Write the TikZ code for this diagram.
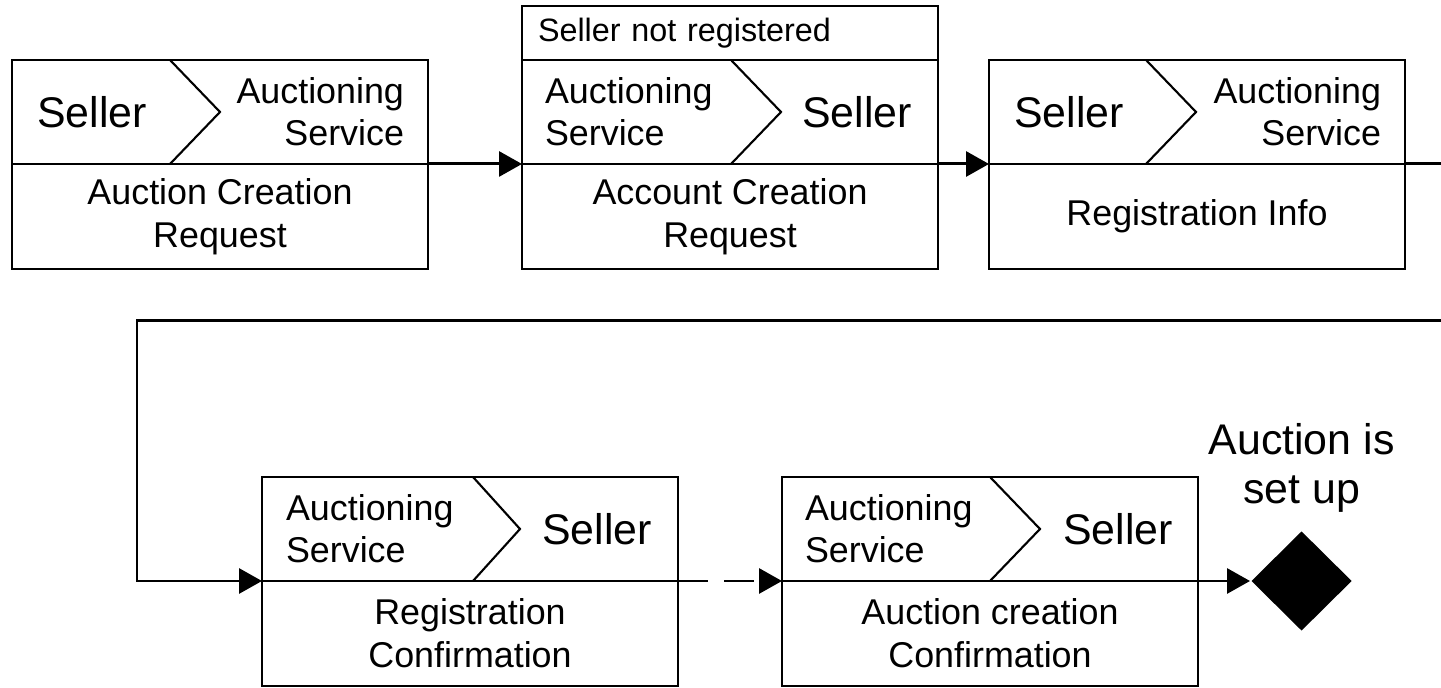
\documentclass[tikz,border=0pt]{standalone}
\usepackage{fontspec}
\setmainfont{Liberation Sans}
\usetikzlibrary{arrows.meta, positioning, shapes.geometric}

\begin{document}
\begin{tikzpicture}[node distance=0cm, >={Triangle[length=0.23cm, width=0.25cm]}, line width=0.6pt]
        \tikzstyle{hdr}=[rectangle, draw, outer sep=0pt, minimum width=4.16cm, minimum height=1.04cm, inner sep=0pt]
        \tikzstyle{msg}=[rectangle, draw, outer sep=0pt, minimum width=4.16cm, minimum height=1.05cm, align=center, font=\fontsize{10.2pt}{12.2pt}\selectfont]
        \tikzstyle{who}=[inner sep=0pt, font=\fontsize{10.2pt}{12pt}\selectfont]
        \tikzstyle{whobig}=[inner sep=0pt, font=\fontsize{12.2pt}{14.2pt}\selectfont]
        \tikzstyle{flow}=[->, line width=0.85pt]
        \useasboundingbox (0,0) rectangle (14.41,-6.88);

        % first row
        \node[hdr] (create) at (2.2,-1.12) {};
        \node[msg, below=of create] (createtxt) {Auction Creation\\Request};
        \node[whobig, anchor=west] at ([xshift=0.24cm]create.west) {Seller};
        \node[who, anchor=east, align=right] at ([xshift=-0.23cm]create.east) {Auctioning\\Service};
        \draw ([xshift=1.58cm]create.north west) -- ([xshift=2.08cm]create.west) -- ([xshift=1.58cm]create.south west);

        \node[hdr, right=0.94cm of create] (account) {};
        \node[msg, below=of account] (accounttxt) {Account Creation\\Request};
        \node[rectangle, draw, outer sep=0pt, above=of account, text width=3.84cm, inner xsep=0.16cm, minimum height=0.53cm, font=\fontsize{9.2pt}{11pt}\selectfont] (cond) {Seller not registered};
        \node[who, anchor=west, align=left] at ([xshift=0.22cm]account.west) {Auctioning\\Service};
        \node[whobig, anchor=east] at ([xshift=-0.25cm]account.east) {Seller};
        \draw ([xshift=2.09cm]account.north west) -- ([xshift=2.59cm]account.west) -- ([xshift=2.09cm]account.south west);

        \node[hdr, right=0.51cm of account] (info) {};
        \node[msg, below=of info] (infotxt) {Registration Info};
        \node[whobig, anchor=west] at ([xshift=0.24cm]info.west) {Seller};
        \node[who, anchor=east, align=right] at ([xshift=-0.23cm]info.east) {Auctioning\\Service};
        \draw ([xshift=1.57cm]info.north west) -- ([xshift=2.07cm]info.west) -- ([xshift=1.57cm]info.south west);

        % second row
        \node[hdr, below=2.08cm of createtxt, xshift=2.5cm] (confirm) {};
        \node[msg, below=of confirm] (confirmtxt) {Registration\\Confirmation};
        \node[who, anchor=west, align=left] at ([xshift=0.23cm]confirm.west) {Auctioning\\Service};
        \node[whobig, anchor=east] at ([xshift=-0.25cm]confirm.east) {Seller};
        \draw ([xshift=2.11cm]confirm.north west) -- ([xshift=2.58cm]confirm.west) -- ([xshift=2.11cm]confirm.south west);

        \node[hdr, right=1.04cm of confirm] (setup) {};
        \node[msg, below=of setup] (setuptxt) {Auction creation\\Confirmation};
        \node[who, anchor=west, align=left] at ([xshift=0.22cm]setup.west) {Auctioning\\Service};
        \node[whobig, anchor=east] at ([xshift=-0.24cm]setup.east) {Seller};
        \draw ([xshift=2.08cm]setup.north west) -- ([xshift=2.58cm]setup.west) -- ([xshift=2.08cm]setup.south west);

        \node[diamond, fill, inner sep=0pt, minimum width=1.01cm, minimum height=1.0cm, right=0.52cm of setup.south east] (done) {};
        \node[whobig, align=center, above=0.16cm of done] (donetxt) {Auction is\\set up};

        % connectors
        \coordinate (back) at (1.37,-3.21);
        \draw[flow] (create.south east) -- (account.south west);
        \draw[flow] (account.south east) -- (info.south west);
        \draw[flow] (info.south east) -- ++(0.5,0) |- (back) |- (confirm.south west);
        \draw[flow, dash pattern=on 0.3cm off 0.16cm] (confirm.south east) -- (setup.south west);
        \draw[flow] (setup.south east) -- (done);
    \end{tikzpicture}
\end{document}
